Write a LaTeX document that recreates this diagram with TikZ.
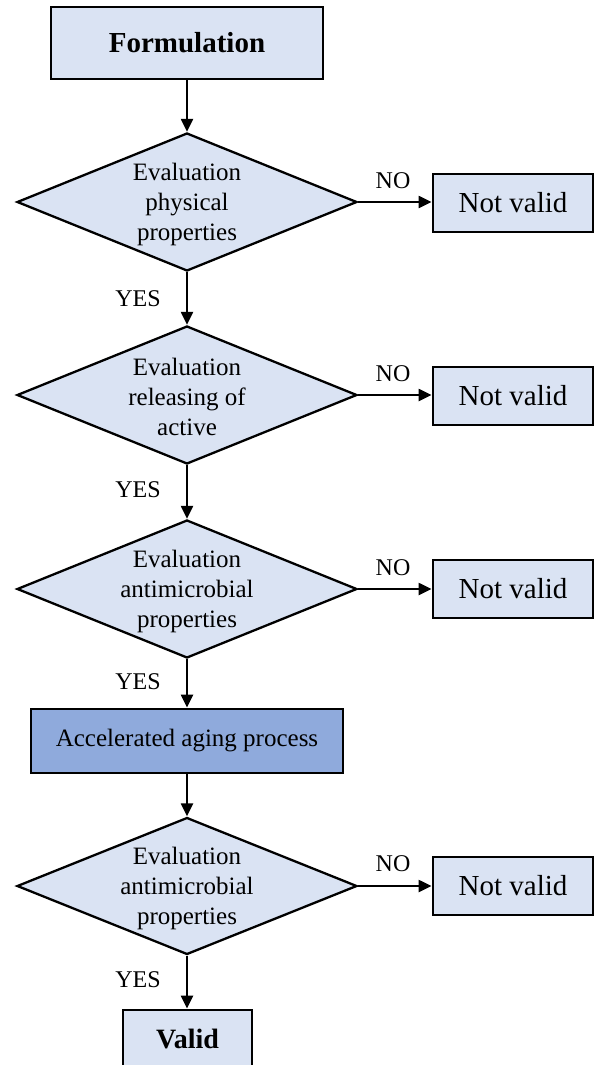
\documentclass[tikz,border=0pt]{standalone}
\usepackage{fontspec}
\setmainfont{Liberation Serif}
\usetikzlibrary{shapes.geometric,arrows.meta}
\definecolor{boxfill}{HTML}{DAE3F3}
\definecolor{accfill}{HTML}{8FAADC}
\tikzset{
  flowbox/.style={draw=black, line width=2.8pt, fill=boxfill, inner sep=0pt},
  decision/.style={diamond, draw=black, line width=2.3pt, fill=boxfill, inner sep=0pt,
                   minimum width=340pt, minimum height=138pt},
  dectext/.style={align=center, font=\fontsize{25}{30}\selectfont, inner sep=0pt},
  notvalid/.style={flowbox, minimum width=160pt, minimum height=58pt,
                   font=\fontsize{29}{34}\selectfont},
  lbl/.style={font=\fontsize{24}{28}\selectfont, inner sep=0pt},
  flow/.style={line width=2.2pt, -{Triangle[length=13pt,width=12pt]}},
}
\begin{document}
\begin{tikzpicture}[x=1pt,y=-1pt]
\clip (0,0) rectangle (594,1065);
\fill[white] (0,0) rectangle (594,1065);

\node[flowbox, minimum width=272pt, minimum height=72pt,
      font=\bfseries\fontsize{29}{34}\selectfont] (form) at (187,43) {Formulation};

\node[decision] (d1) at (187,202) {};
\node[dectext] (d1t) at (187,204) {Evaluation\\physical\\properties};
\node[notvalid] (nv1) at (513,203) {Not valid};

\node[decision] (d2) at (187,395) {};
\node[dectext] (d2t) at (187,397) {Evaluation\\releasing of\\active};
\node[notvalid] (nv2) at (513,396) {Not valid};

\node[decision] (d3) at (187,589) {};
\node[dectext] (d3t) at (187,591) {Evaluation\\antimicrobial\\properties};
\node[notvalid] (nv3) at (513,589) {Not valid};

\node[flowbox, fill=accfill, minimum width=312pt, minimum height=64pt,
      font=\fontsize{25}{30}\selectfont] (acc) at (187,741) {Accelerated aging process};

\node[decision, minimum height=137pt] (d4) at (187,886) {};
\node[dectext] (d4t) at (187,888) {Evaluation\\antimicrobial\\properties};
\node[notvalid] (nv4) at (513,886) {Not valid};

\node[flowbox, minimum width=129pt, minimum height=58pt,
      font=\bfseries\fontsize{28}{33}\selectfont] (valid) at (187.5,1039) {Valid};

% connectors
\draw[flow] (form) -- (d1.north);
\draw[flow] (d1.south) -- (d2.north);
\draw[flow] (d2.south) -- (d3.north);
\draw[flow] (d3.south) -- (acc.north);
\draw[flow] (acc.south) -- (d4.north);
\draw[flow] (d4.south) -- (d4.south |- valid.north);

\draw[flow] (d1.east) -- (d1.east -| nv1.west);
\draw[flow] (d2.east) -- (d2.east -| nv2.west);
\draw[flow] (d3.east) -- (d3.east -| nv3.west);
\draw[flow] (d4.east) -- (d4.east -| nv4.west);

% labels
\node[lbl] (no1) at (393,181) {NO};
\node[lbl] (no2) at (393,374) {NO};
\node[lbl] (no3) at (393,568) {NO};
\node[lbl] (no4) at (393,864) {NO};
\node[lbl] (yes1) at (138,299) {YES};
\node[lbl] (yes2) at (138,490) {YES};
\node[lbl] (yes3) at (138,682) {YES};
\node[lbl] (yes4) at (138,980) {YES};
\end{tikzpicture}
\end{document}
